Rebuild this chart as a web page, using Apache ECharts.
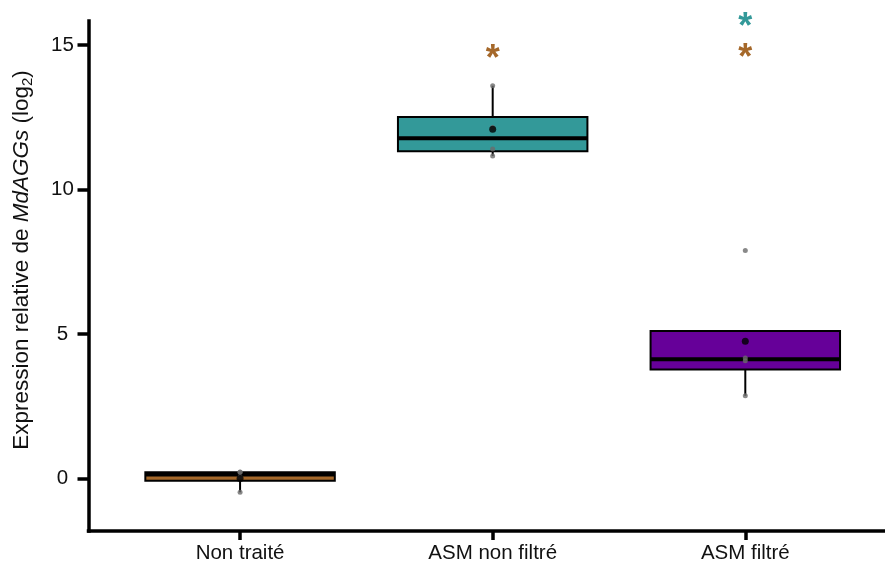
<!DOCTYPE html>
<html>
<head>
<meta charset="utf-8">
<script src="https://cdn.jsdelivr.net/npm/echarts@6/dist/echarts.min.js"></script>
<style>
html,body{margin:0;padding:0;background:#fff;}
#chart{width:885px;height:565px;}
</style>
</head>
<body>
<div id="chart"></div>
<script>
// ---- data ----
const categories = ['Non traité', 'ASM non filtré', 'ASM filtré'];
const boxLow    = [-0.48, 11.16, 2.86];
const boxQ1     = [-0.08, 11.32, 3.77];
const boxMedian = [0.135, 11.77, 4.12];
const boxQ3     = [0.215, 12.51, 5.10];
const boxHigh   = [0.215, 13.59, 5.10];
const groupMeans = [0.0, 12.08, 4.75];
const pointsNonTraite    = [-0.48, 0.05, 0.21, 0.22];
const pointsAsmNonFiltre = [11.16, 11.40, 12.14, 13.59];
const pointsAsmFiltre    = [2.86, 4.07, 4.17, 7.89];
const sigGroup = ['ASM non filtré', 'ASM filtré', 'ASM filtré'];
const sigValue = [14.73, 15.85, 14.75];
const sigVsGroup = ['Non traité', 'ASM non filtré', 'Non traité'];
const yTicks = [0, 5, 10, 15];

// ---- styles ----
const fillColors = ['#A5682A', '#339999', '#660099'];
const pointGroups = [pointsNonTraite, pointsAsmNonFiltre, pointsAsmFiltre];

const boxData = categories.map((c, i) => [i + 1, boxLow[i], boxQ1[i], boxMedian[i], boxQ3[i], boxHigh[i]]);
const pointData = [];
pointGroups.forEach((arr, i) => arr.forEach(v => pointData.push([i + 1, v])));
const meanData = groupMeans.map((m, i) => [i + 1, m]);
const sigData = sigGroup.map((g, i) => [categories.indexOf(g) + 1, sigValue[i], categories.indexOf(sigVsGroup[i])]);

const FONT = '"Liberation Sans", Arial, Helvetica, sans-serif';
const chart = echarts.init(document.getElementById('chart'), null, {renderer: 'canvas'});

chart.setOption({
  animation: false,
  backgroundColor: '#ffffff',
  grid: {left: 88.5, top: 21, right: 0, height: 510, containLabel: false},
  xAxis: {
    type: 'value', min: 0.4, max: 3.553,
    splitLine: {show: false},
    axisLine: {show: true, onZero: false, lineStyle: {color: '#000', width: 3.5, cap: 'square'}},
    axisTick: {show: true, customValues: [1, 2, 3], length: 9, lineStyle: {color: '#000', width: 3.5}},
    axisLabel: {customValues: [1, 2, 3], formatter: v => categories[Math.round(v) - 1] || '',
      margin: 12, fontSize: 20.5, color: '#111', fontFamily: FONT}
  },
  yAxis: {
    type: 'value', min: -1.82, max: 15.83,
    splitLine: {show: false},
    axisLine: {show: true, onZero: false, lineStyle: {color: '#000', width: 3.5, cap: 'square'}},
    axisTick: {show: true, customValues: yTicks, length: 11, lineStyle: {color: '#000', width: 3.5}},
    axisLabel: {customValues: yTicks, align: 'center', margin: 26, fontSize: 20.5, color: '#111', fontFamily: FONT}
  },
  graphic: [{
    type: 'text', x: 22, y: 260, rotation: Math.PI / 2,
    style: {
      text: '{a|Expression relative de }{i|MdAGGs}{a| (log}{s|2}{a|)}',
      align: 'center', verticalAlign: 'middle',
      rich: {
        a: {fontSize: 22.5, fontFamily: FONT, fill: '#111', lineHeight: 26},
        i: {fontSize: 22.5, fontFamily: FONT, fontStyle: 'italic', fill: '#111', lineHeight: 26},
        s: {fontSize: 15, fontFamily: FONT, fill: '#111', lineHeight: 15, verticalAlign: 'bottom'}
      }
    }
  }],
  series: [
    {
      type: 'custom', name: 'box', data: boxData, clip: false,
      encode: {x: 0, y: [1, 2, 3, 4, 5]},
      renderItem: function (params, api) {
        const x = api.value(0);
        const i = params.dataIndex;
        const pLow = api.coord([x, api.value(1)]);
        const pQ1 = api.coord([x, api.value(2)]);
        const pMed = api.coord([x, api.value(3)]);
        const pQ3 = api.coord([x, api.value(4)]);
        const pHigh = api.coord([x, api.value(5)]);
        const w = api.size([0.75, 0])[0];
        const cx = pMed[0];
        return {
          type: 'group',
          children: [
            {type: 'line', shape: {x1: cx, y1: pQ3[1], x2: cx, y2: pHigh[1]}, style: {stroke: '#000', lineWidth: 2}},
            {type: 'line', shape: {x1: cx, y1: pQ1[1], x2: cx, y2: pLow[1]}, style: {stroke: '#000', lineWidth: 2}},
            {type: 'rect', shape: {x: cx - w / 2, y: pQ3[1], width: w, height: pQ1[1] - pQ3[1]},
              style: {fill: fillColors[i], stroke: '#000', lineWidth: 2}},
            {type: 'line', shape: {x1: cx - w / 2, y1: pMed[1], x2: cx + w / 2, y2: pMed[1]}, style: {stroke: '#000', lineWidth: 4}}
          ]
        };
      },
      z: 2
    },
    {
      type: 'scatter', name: 'points', data: pointData, symbol: 'circle', symbolSize: 5,
      itemStyle: {color: '#6b6b6b'}, z: 3
    },
    {
      type: 'scatter', name: 'mean', data: meanData, symbol: 'circle', symbolSize: 7,
      itemStyle: {color: '#000'}, z: 4
    },
    {
      type: 'custom', name: 'sig', data: sigData, clip: false,
      encode: {x: 0, y: 1},
      renderItem: function (params, api) {
        const p = api.coord([api.value(0), api.value(1)]);
        const fs = 36;
        return {
          type: 'text', x: p[0], y: p[1] + fs * 0.2,
          style: {text: '*', fill: fillColors[api.value(2)], fontSize: fs, fontWeight: 'bold', fontFamily: FONT,
            align: 'center', verticalAlign: 'middle'}
        };
      },
      z: 5
    }
  ]
});
</script>
</body>
</html>
